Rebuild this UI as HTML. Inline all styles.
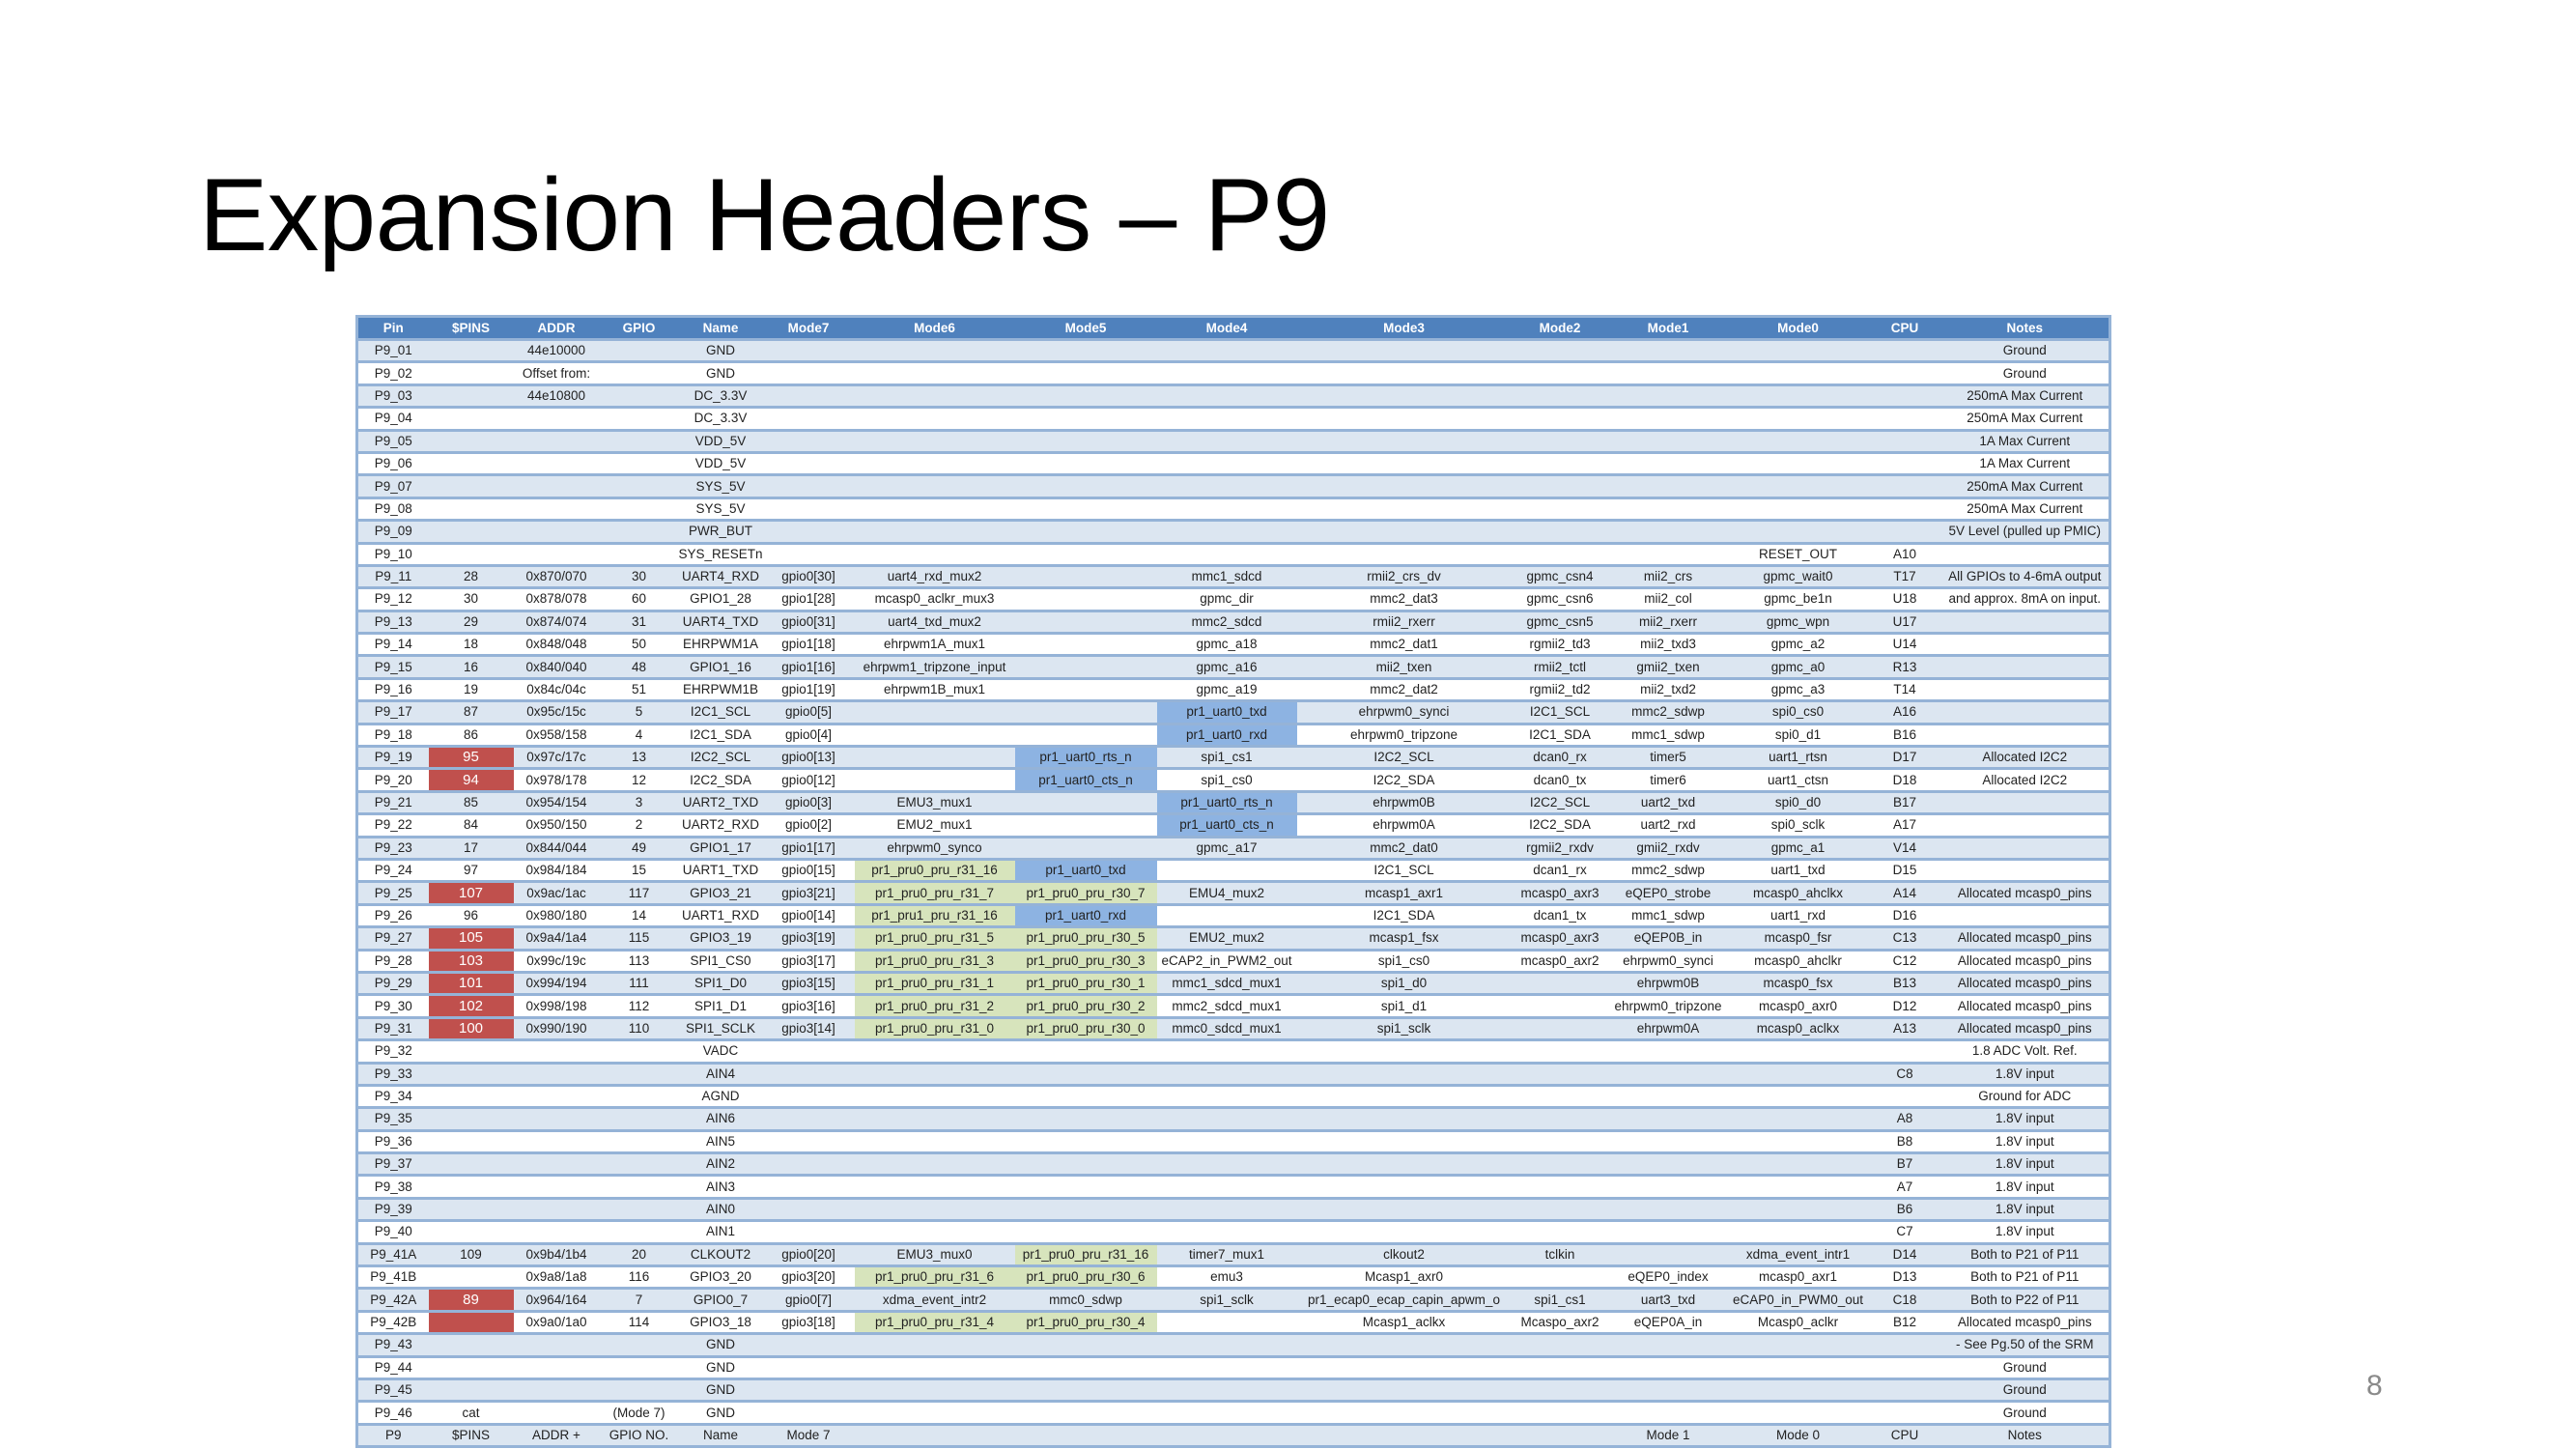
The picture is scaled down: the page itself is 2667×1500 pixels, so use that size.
<!DOCTYPE html>
<html><head><meta charset="utf-8"><style>
html,body{margin:0;padding:0;background:#fff;width:2667px;height:1500px;overflow:hidden;position:relative}
.title{position:absolute;left:206px;top:169px;font-family:"Liberation Sans",sans-serif;font-size:107px;color:#000;line-height:1;white-space:nowrap;letter-spacing:-0.6px}
.pg{position:absolute;left:2450px;top:1418px;font-family:"Liberation Sans",sans-serif;font-size:30px;color:#8a8a8a}
table{position:absolute;left:368px;top:326px;width:1815px;border-collapse:collapse;table-layout:fixed;font-family:"Liberation Sans Narrow","Liberation Sans",sans-serif;font-size:13.5px;color:#222;border:3px solid #95b3d7}
td,th{padding:0;text-align:center;white-space:nowrap;overflow:visible;border-bottom:3px solid #95b3d7;height:20.4px;line-height:20px}
th{background:#4f81bd;color:#fff;font-weight:bold;height:21px;border-bottom:3px solid #95b3d7}
tr:nth-child(odd) td{background:#dce6f1}
tr:nth-child(even) td{background:#fff}
tr td.r{background:#c0504d;color:#fff;font-size:15px}
tr td.g{background:#d7e4bc}
tr td.b{background:#8db3e2}
</style></head><body>
<div class="title">Expansion Headers – P9</div>
<div class="pg">8</div>
<table>
<colgroup><col style="width:74px"><col style="width:88px"><col style="width:89px"><col style="width:82px"><col style="width:87px"><col style="width:95px"><col style="width:166px"><col style="width:147px"><col style="width:145px"><col style="width:222px"><col style="width:101px"><col style="width:123px"><col style="width:146px"><col style="width:75px"><col style="width:175px"></colgroup>
<thead><tr><th>Pin</th><th>$PINS</th><th>ADDR</th><th>GPIO</th><th>Name</th><th>Mode7</th><th>Mode6</th><th>Mode5</th><th>Mode4</th><th>Mode3</th><th>Mode2</th><th>Mode1</th><th>Mode0</th><th>CPU</th><th>Notes</th></tr></thead>
<tbody>
<tr><td>P9_01</td><td></td><td>44e10000</td><td></td><td>GND</td><td></td><td></td><td></td><td></td><td></td><td></td><td></td><td></td><td></td><td>Ground</td></tr>
<tr><td>P9_02</td><td></td><td>Offset from:</td><td></td><td>GND</td><td></td><td></td><td></td><td></td><td></td><td></td><td></td><td></td><td></td><td>Ground</td></tr>
<tr><td>P9_03</td><td></td><td>44e10800</td><td></td><td>DC_3.3V</td><td></td><td></td><td></td><td></td><td></td><td></td><td></td><td></td><td></td><td>250mA Max Current</td></tr>
<tr><td>P9_04</td><td></td><td></td><td></td><td>DC_3.3V</td><td></td><td></td><td></td><td></td><td></td><td></td><td></td><td></td><td></td><td>250mA Max Current</td></tr>
<tr><td>P9_05</td><td></td><td></td><td></td><td>VDD_5V</td><td></td><td></td><td></td><td></td><td></td><td></td><td></td><td></td><td></td><td>1A Max Current</td></tr>
<tr><td>P9_06</td><td></td><td></td><td></td><td>VDD_5V</td><td></td><td></td><td></td><td></td><td></td><td></td><td></td><td></td><td></td><td>1A Max Current</td></tr>
<tr><td>P9_07</td><td></td><td></td><td></td><td>SYS_5V</td><td></td><td></td><td></td><td></td><td></td><td></td><td></td><td></td><td></td><td>250mA Max Current</td></tr>
<tr><td>P9_08</td><td></td><td></td><td></td><td>SYS_5V</td><td></td><td></td><td></td><td></td><td></td><td></td><td></td><td></td><td></td><td>250mA Max Current</td></tr>
<tr><td>P9_09</td><td></td><td></td><td></td><td>PWR_BUT</td><td></td><td></td><td></td><td></td><td></td><td></td><td></td><td></td><td></td><td>5V Level (pulled up PMIC)</td></tr>
<tr><td>P9_10</td><td></td><td></td><td></td><td>SYS_RESETn</td><td></td><td></td><td></td><td></td><td></td><td></td><td></td><td>RESET_OUT</td><td>A10</td><td></td></tr>
<tr><td>P9_11</td><td>28</td><td>0x870/070</td><td>30</td><td>UART4_RXD</td><td>gpio0[30]</td><td>uart4_rxd_mux2</td><td></td><td>mmc1_sdcd</td><td>rmii2_crs_dv</td><td>gpmc_csn4</td><td>mii2_crs</td><td>gpmc_wait0</td><td>T17</td><td>All GPIOs to 4-6mA output</td></tr>
<tr><td>P9_12</td><td>30</td><td>0x878/078</td><td>60</td><td>GPIO1_28</td><td>gpio1[28]</td><td>mcasp0_aclkr_mux3</td><td></td><td>gpmc_dir</td><td>mmc2_dat3</td><td>gpmc_csn6</td><td>mii2_col</td><td>gpmc_be1n</td><td>U18</td><td>and approx. 8mA on input.</td></tr>
<tr><td>P9_13</td><td>29</td><td>0x874/074</td><td>31</td><td>UART4_TXD</td><td>gpio0[31]</td><td>uart4_txd_mux2</td><td></td><td>mmc2_sdcd</td><td>rmii2_rxerr</td><td>gpmc_csn5</td><td>mii2_rxerr</td><td>gpmc_wpn</td><td>U17</td><td></td></tr>
<tr><td>P9_14</td><td>18</td><td>0x848/048</td><td>50</td><td>EHRPWM1A</td><td>gpio1[18]</td><td>ehrpwm1A_mux1</td><td></td><td>gpmc_a18</td><td>mmc2_dat1</td><td>rgmii2_td3</td><td>mii2_txd3</td><td>gpmc_a2</td><td>U14</td><td></td></tr>
<tr><td>P9_15</td><td>16</td><td>0x840/040</td><td>48</td><td>GPIO1_16</td><td>gpio1[16]</td><td>ehrpwm1_tripzone_input</td><td></td><td>gpmc_a16</td><td>mii2_txen</td><td>rmii2_tctl</td><td>gmii2_txen</td><td>gpmc_a0</td><td>R13</td><td></td></tr>
<tr><td>P9_16</td><td>19</td><td>0x84c/04c</td><td>51</td><td>EHRPWM1B</td><td>gpio1[19]</td><td>ehrpwm1B_mux1</td><td></td><td>gpmc_a19</td><td>mmc2_dat2</td><td>rgmii2_td2</td><td>mii2_txd2</td><td>gpmc_a3</td><td>T14</td><td></td></tr>
<tr><td>P9_17</td><td>87</td><td>0x95c/15c</td><td>5</td><td>I2C1_SCL</td><td>gpio0[5]</td><td></td><td></td><td class="b">pr1_uart0_txd</td><td>ehrpwm0_synci</td><td>I2C1_SCL</td><td>mmc2_sdwp</td><td>spi0_cs0</td><td>A16</td><td></td></tr>
<tr><td>P9_18</td><td>86</td><td>0x958/158</td><td>4</td><td>I2C1_SDA</td><td>gpio0[4]</td><td></td><td></td><td class="b">pr1_uart0_rxd</td><td>ehrpwm0_tripzone</td><td>I2C1_SDA</td><td>mmc1_sdwp</td><td>spi0_d1</td><td>B16</td><td></td></tr>
<tr><td>P9_19</td><td class="r">95</td><td>0x97c/17c</td><td>13</td><td>I2C2_SCL</td><td>gpio0[13]</td><td></td><td class="b">pr1_uart0_rts_n</td><td>spi1_cs1</td><td>I2C2_SCL</td><td>dcan0_rx</td><td>timer5</td><td>uart1_rtsn</td><td>D17</td><td>Allocated I2C2</td></tr>
<tr><td>P9_20</td><td class="r">94</td><td>0x978/178</td><td>12</td><td>I2C2_SDA</td><td>gpio0[12]</td><td></td><td class="b">pr1_uart0_cts_n</td><td>spi1_cs0</td><td>I2C2_SDA</td><td>dcan0_tx</td><td>timer6</td><td>uart1_ctsn</td><td>D18</td><td>Allocated I2C2</td></tr>
<tr><td>P9_21</td><td>85</td><td>0x954/154</td><td>3</td><td>UART2_TXD</td><td>gpio0[3]</td><td>EMU3_mux1</td><td></td><td class="b">pr1_uart0_rts_n</td><td>ehrpwm0B</td><td>I2C2_SCL</td><td>uart2_txd</td><td>spi0_d0</td><td>B17</td><td></td></tr>
<tr><td>P9_22</td><td>84</td><td>0x950/150</td><td>2</td><td>UART2_RXD</td><td>gpio0[2]</td><td>EMU2_mux1</td><td></td><td class="b">pr1_uart0_cts_n</td><td>ehrpwm0A</td><td>I2C2_SDA</td><td>uart2_rxd</td><td>spi0_sclk</td><td>A17</td><td></td></tr>
<tr><td>P9_23</td><td>17</td><td>0x844/044</td><td>49</td><td>GPIO1_17</td><td>gpio1[17]</td><td>ehrpwm0_synco</td><td></td><td>gpmc_a17</td><td>mmc2_dat0</td><td>rgmii2_rxdv</td><td>gmii2_rxdv</td><td>gpmc_a1</td><td>V14</td><td></td></tr>
<tr><td>P9_24</td><td>97</td><td>0x984/184</td><td>15</td><td>UART1_TXD</td><td>gpio0[15]</td><td class="g">pr1_pru0_pru_r31_16</td><td class="b">pr1_uart0_txd</td><td></td><td>I2C1_SCL</td><td>dcan1_rx</td><td>mmc2_sdwp</td><td>uart1_txd</td><td>D15</td><td></td></tr>
<tr><td>P9_25</td><td class="r">107</td><td>0x9ac/1ac</td><td>117</td><td>GPIO3_21</td><td>gpio3[21]</td><td class="g">pr1_pru0_pru_r31_7</td><td class="g">pr1_pru0_pru_r30_7</td><td>EMU4_mux2</td><td>mcasp1_axr1</td><td>mcasp0_axr3</td><td>eQEP0_strobe</td><td>mcasp0_ahclkx</td><td>A14</td><td>Allocated mcasp0_pins</td></tr>
<tr><td>P9_26</td><td>96</td><td>0x980/180</td><td>14</td><td>UART1_RXD</td><td>gpio0[14]</td><td class="g">pr1_pru1_pru_r31_16</td><td class="b">pr1_uart0_rxd</td><td></td><td>I2C1_SDA</td><td>dcan1_tx</td><td>mmc1_sdwp</td><td>uart1_rxd</td><td>D16</td><td></td></tr>
<tr><td>P9_27</td><td class="r">105</td><td>0x9a4/1a4</td><td>115</td><td>GPIO3_19</td><td>gpio3[19]</td><td class="g">pr1_pru0_pru_r31_5</td><td class="g">pr1_pru0_pru_r30_5</td><td>EMU2_mux2</td><td>mcasp1_fsx</td><td>mcasp0_axr3</td><td>eQEP0B_in</td><td>mcasp0_fsr</td><td>C13</td><td>Allocated mcasp0_pins</td></tr>
<tr><td>P9_28</td><td class="r">103</td><td>0x99c/19c</td><td>113</td><td>SPI1_CS0</td><td>gpio3[17]</td><td class="g">pr1_pru0_pru_r31_3</td><td class="g">pr1_pru0_pru_r30_3</td><td>eCAP2_in_PWM2_out</td><td>spi1_cs0</td><td>mcasp0_axr2</td><td>ehrpwm0_synci</td><td>mcasp0_ahclkr</td><td>C12</td><td>Allocated mcasp0_pins</td></tr>
<tr><td>P9_29</td><td class="r">101</td><td>0x994/194</td><td>111</td><td>SPI1_D0</td><td>gpio3[15]</td><td class="g">pr1_pru0_pru_r31_1</td><td class="g">pr1_pru0_pru_r30_1</td><td>mmc1_sdcd_mux1</td><td>spi1_d0</td><td></td><td>ehrpwm0B</td><td>mcasp0_fsx</td><td>B13</td><td>Allocated mcasp0_pins</td></tr>
<tr><td>P9_30</td><td class="r">102</td><td>0x998/198</td><td>112</td><td>SPI1_D1</td><td>gpio3[16]</td><td class="g">pr1_pru0_pru_r31_2</td><td class="g">pr1_pru0_pru_r30_2</td><td>mmc2_sdcd_mux1</td><td>spi1_d1</td><td></td><td>ehrpwm0_tripzone</td><td>mcasp0_axr0</td><td>D12</td><td>Allocated mcasp0_pins</td></tr>
<tr><td>P9_31</td><td class="r">100</td><td>0x990/190</td><td>110</td><td>SPI1_SCLK</td><td>gpio3[14]</td><td class="g">pr1_pru0_pru_r31_0</td><td class="g">pr1_pru0_pru_r30_0</td><td>mmc0_sdcd_mux1</td><td>spi1_sclk</td><td></td><td>ehrpwm0A</td><td>mcasp0_aclkx</td><td>A13</td><td>Allocated mcasp0_pins</td></tr>
<tr><td>P9_32</td><td></td><td></td><td></td><td>VADC</td><td></td><td></td><td></td><td></td><td></td><td></td><td></td><td></td><td></td><td>1.8 ADC Volt. Ref.</td></tr>
<tr><td>P9_33</td><td></td><td></td><td></td><td>AIN4</td><td></td><td></td><td></td><td></td><td></td><td></td><td></td><td></td><td>C8</td><td>1.8V input</td></tr>
<tr><td>P9_34</td><td></td><td></td><td></td><td>AGND</td><td></td><td></td><td></td><td></td><td></td><td></td><td></td><td></td><td></td><td>Ground for ADC</td></tr>
<tr><td>P9_35</td><td></td><td></td><td></td><td>AIN6</td><td></td><td></td><td></td><td></td><td></td><td></td><td></td><td></td><td>A8</td><td>1.8V input</td></tr>
<tr><td>P9_36</td><td></td><td></td><td></td><td>AIN5</td><td></td><td></td><td></td><td></td><td></td><td></td><td></td><td></td><td>B8</td><td>1.8V input</td></tr>
<tr><td>P9_37</td><td></td><td></td><td></td><td>AIN2</td><td></td><td></td><td></td><td></td><td></td><td></td><td></td><td></td><td>B7</td><td>1.8V input</td></tr>
<tr><td>P9_38</td><td></td><td></td><td></td><td>AIN3</td><td></td><td></td><td></td><td></td><td></td><td></td><td></td><td></td><td>A7</td><td>1.8V input</td></tr>
<tr><td>P9_39</td><td></td><td></td><td></td><td>AIN0</td><td></td><td></td><td></td><td></td><td></td><td></td><td></td><td></td><td>B6</td><td>1.8V input</td></tr>
<tr><td>P9_40</td><td></td><td></td><td></td><td>AIN1</td><td></td><td></td><td></td><td></td><td></td><td></td><td></td><td></td><td>C7</td><td>1.8V input</td></tr>
<tr><td>P9_41A</td><td>109</td><td>0x9b4/1b4</td><td>20</td><td>CLKOUT2</td><td>gpio0[20]</td><td>EMU3_mux0</td><td class="g">pr1_pru0_pru_r31_16</td><td>timer7_mux1</td><td>clkout2</td><td>tclkin</td><td></td><td>xdma_event_intr1</td><td>D14</td><td>Both to P21 of P11</td></tr>
<tr><td>P9_41B</td><td></td><td>0x9a8/1a8</td><td>116</td><td>GPIO3_20</td><td>gpio3[20]</td><td class="g">pr1_pru0_pru_r31_6</td><td class="g">pr1_pru0_pru_r30_6</td><td>emu3</td><td>Mcasp1_axr0</td><td></td><td>eQEP0_index</td><td>mcasp0_axr1</td><td>D13</td><td>Both to P21 of P11</td></tr>
<tr><td>P9_42A</td><td class="r">89</td><td>0x964/164</td><td>7</td><td>GPIO0_7</td><td>gpio0[7]</td><td>xdma_event_intr2</td><td>mmc0_sdwp</td><td>spi1_sclk</td><td>pr1_ecap0_ecap_capin_apwm_o</td><td>spi1_cs1</td><td>uart3_txd</td><td>eCAP0_in_PWM0_out</td><td>C18</td><td>Both to P22 of P11</td></tr>
<tr><td>P9_42B</td><td class="r"></td><td>0x9a0/1a0</td><td>114</td><td>GPIO3_18</td><td>gpio3[18]</td><td class="g">pr1_pru0_pru_r31_4</td><td class="g">pr1_pru0_pru_r30_4</td><td></td><td>Mcasp1_aclkx</td><td>Mcaspo_axr2</td><td>eQEP0A_in</td><td>Mcasp0_aclkr</td><td>B12</td><td>Allocated mcasp0_pins</td></tr>
<tr><td>P9_43</td><td></td><td></td><td></td><td>GND</td><td></td><td></td><td></td><td></td><td></td><td></td><td></td><td></td><td></td><td>- See Pg.50 of the SRM</td></tr>
<tr><td>P9_44</td><td></td><td></td><td></td><td>GND</td><td></td><td></td><td></td><td></td><td></td><td></td><td></td><td></td><td></td><td>Ground</td></tr>
<tr><td>P9_45</td><td></td><td></td><td></td><td>GND</td><td></td><td></td><td></td><td></td><td></td><td></td><td></td><td></td><td></td><td>Ground</td></tr>
<tr><td>P9_46</td><td>cat</td><td></td><td>(Mode 7)</td><td>GND</td><td></td><td></td><td></td><td></td><td></td><td></td><td></td><td></td><td></td><td>Ground</td></tr>
<tr><td>P9</td><td>$PINS</td><td>ADDR +</td><td>GPIO NO.</td><td>Name</td><td>Mode 7</td><td></td><td></td><td></td><td></td><td></td><td>Mode 1</td><td>Mode 0</td><td>CPU</td><td>Notes</td></tr>
</tbody></table>
</body></html>
